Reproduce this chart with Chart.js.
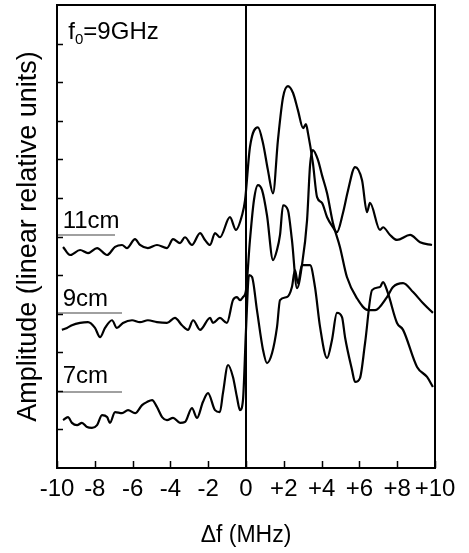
<!DOCTYPE html>
<html>
<head>
<meta charset="utf-8">
<title>Amplitude vs frequency offset</title>
<script src="https://cdn.jsdelivr.net/npm/chart.js@4/dist/chart.umd.min.js"></script>
<style>
    html, body { margin: 0; padding: 0; background: #fff; }
</style>
</head>
<body>
<canvas id="chart" width="469" height="553"></canvas>
<script>
// [frequency offset (MHz), amplitude (relative units)]
var curve11cm = [
    [-9.68, 5.73], [-9.31, 5.52], [-8.78, 5.65], [-8.36, 5.57], [-7.88, 5.70], [-7.35, 5.52],
    [-6.93, 5.73], [-6.56, 5.78], [-6.30, 5.70], [-5.87, 5.93], [-5.61, 5.78], [-5.19, 5.70],
    [-4.71, 5.78], [-4.18, 5.70], [-3.86, 5.93], [-3.49, 5.83], [-3.23, 5.98], [-2.86, 5.78],
    [-2.43, 6.09], [-2.17, 5.91], [-1.90, 5.78], [-1.64, 6.09], [-1.38, 5.98], [-0.85, 6.50],
    [-0.53, 6.17], [-0.21, 6.55], [-0.05, 6.94], [0.21, 8.32], [0.63, 8.83], [0.90, 8.42],
    [1.16, 7.72], [1.43, 7.12], [1.69, 8.50], [1.96, 9.61], [2.22, 9.90], [2.49, 9.72],
    [2.75, 9.27], [3.02, 8.81], [3.17, 8.91], [3.28, 8.68], [3.54, 7.90], [3.76, 7.02],
    [4.02, 6.87], [4.29, 6.50], [4.60, 6.24], [4.81, 6.11], [5.13, 6.61], [5.40, 7.20],
    [5.77, 7.80], [6.14, 7.46], [6.40, 6.63], [6.56, 6.87], [7.09, 6.17], [7.25, 6.24],
    [7.62, 6.04], [7.99, 5.91], [8.68, 6.04], [9.21, 5.85], [9.84, 5.78]
];
var curve9cm = [
    [-9.74, 3.58], [-9.47, 3.63], [-9.21, 3.70], [-8.78, 3.76], [-8.36, 3.78], [-7.99, 3.63],
    [-7.72, 3.39], [-7.46, 3.63], [-7.09, 3.83], [-6.83, 3.63], [-6.51, 3.76], [-6.03, 3.83],
    [-5.61, 3.78], [-5.19, 3.83], [-4.71, 3.78], [-4.18, 3.76], [-3.76, 3.89], [-3.39, 3.70],
    [-3.07, 3.58], [-2.80, 3.83], [-2.43, 3.58], [-1.90, 3.89], [-1.75, 3.76], [-1.38, 3.89],
    [-1.01, 3.76], [-0.69, 4.35], [-0.48, 4.43], [-0.32, 4.35], [-0.16, 4.43], [0.00, 4.61],
    [0.21, 5.91], [0.42, 6.94], [0.63, 7.33], [0.85, 7.20], [1.11, 6.55], [1.43, 5.39],
    [1.64, 5.65], [1.80, 6.04], [1.96, 6.81], [2.22, 6.68], [2.43, 5.91], [2.70, 4.66],
    [2.96, 5.26], [3.23, 6.42], [3.39, 7.85], [3.54, 8.24], [3.81, 7.98], [4.02, 7.59],
    [4.29, 7.12], [4.60, 6.35], [4.97, 5.73], [5.34, 4.95], [5.87, 4.40], [6.46, 4.09],
    [6.83, 4.09], [7.46, 4.43], [7.78, 4.69], [8.31, 4.79], [8.84, 4.56], [9.37, 4.27],
    [9.89, 4.02]
];
var curve7cm = [
    [-9.68, 1.24], [-9.42, 1.32], [-9.21, 1.17], [-8.94, 1.11], [-8.68, 1.17], [-8.41, 1.06],
    [-8.15, 1.04], [-7.88, 1.11], [-7.62, 1.37], [-7.35, 1.32], [-7.20, 1.17], [-6.93, 1.45],
    [-6.56, 1.42], [-6.24, 1.50], [-5.87, 1.42], [-5.50, 1.63], [-5.24, 1.71], [-4.97, 1.76],
    [-4.71, 1.58], [-4.44, 1.32], [-4.18, 1.24], [-3.86, 1.30], [-3.49, 1.17], [-3.23, 1.19],
    [-2.86, 1.55], [-2.59, 1.30], [-2.28, 1.71], [-2.01, 1.94], [-1.64, 1.50], [-1.38, 1.45],
    [-1.22, 1.94], [-0.95, 2.67], [-0.69, 2.36], [-0.48, 1.84], [-0.32, 1.50], [-0.16, 1.76],
    [0.00, 3.58], [0.16, 5.00], [0.32, 4.95], [0.58, 4.09], [0.90, 3.06], [1.11, 2.72],
    [1.38, 2.98], [1.64, 3.65], [1.80, 4.35], [2.17, 4.43], [2.43, 4.69], [2.59, 5.13],
    [2.75, 4.79], [2.96, 5.26], [3.39, 5.26], [3.65, 4.69], [3.92, 3.65], [4.29, 2.85],
    [4.55, 3.32], [4.81, 4.02], [5.08, 3.91], [5.24, 3.39], [5.61, 2.54], [5.77, 2.23],
    [6.03, 2.33], [6.30, 3.24], [6.67, 4.61], [7.09, 4.69], [7.25, 4.82], [7.51, 4.53],
    [7.99, 3.76], [8.31, 3.58], [9.05, 2.62], [9.58, 2.36], [9.89, 2.10]
];

// grey reference lines drawn under each distance label
var baseline11cm = [[-10, 6.04], [-6.93, 6.04]];
var baseline9cm = [[-10, 4.02], [-6.56, 4.02]];
var baseline7cm = [[-10, 1.97], [-6.56, 1.97]];
var zeroLine = [[0, 0], [0, 12]];

var curveLabels = [
    { text: '11cm', f: -9.7, a: 6.22 },
    { text: '9cm', f: -9.7, a: 4.20 },
    { text: '7cm', f: -9.7, a: 2.20 }
];
var xTicks = [-10, -8, -6, -4, -2, 0, 2, 4, 6, 8, 10];
var yTicks = [1, 2, 3, 4, 5, 6, 7, 8, 9, 10, 11];

(function () {
    "use strict";

    var FONT = '"Liberation Sans", Arial, Helvetica, sans-serif';

    function pts(list) {
        return list.map(function (p) { return { x: p[0], y: p[1] }; });
    }

    function curve(list) {
        return { data: pts(list), borderColor: '#000', borderWidth: 2.2, pointRadius: 0, cubicInterpolationMode: 'monotone', fill: false };
    }

    function rule(list, color, width) {
        return { data: pts(list), borderColor: color, borderWidth: width, pointRadius: 0, tension: 0, fill: false };
    }

    // frame, inward ticks and in-plot text
    var decorations = {
        id: 'decorations',
        afterDatasetsDraw: function (chart) {
            var ctx = chart.ctx, a = chart.chartArea, xs = chart.scales.x, ys = chart.scales.y;
            ctx.save();
            ctx.strokeStyle = '#000';
            ctx.lineWidth = 1.5;
            ctx.beginPath();
            xTicks.forEach(function (v) {
                var px = Math.round(xs.getPixelForValue(v)) + 0.5;
                ctx.moveTo(px, a.bottom);
                ctx.lineTo(px, a.bottom - 7);
            });
            yTicks.forEach(function (v) {
                var py = Math.round(ys.getPixelForValue(v)) + 0.5;
                ctx.moveTo(a.left, py);
                ctx.lineTo(a.left + 6, py);
            });
            ctx.stroke();

            ctx.lineWidth = 2;
            ctx.strokeRect(a.left, a.top, a.right - a.left, a.bottom - a.top);

            ctx.fillStyle = '#000';
            ctx.textBaseline = 'alphabetic';
            ctx.textAlign = 'left';
            ctx.font = '24px ' + FONT;
            curveLabels.forEach(function (lab) {
                ctx.fillText(lab.text, xs.getPixelForValue(lab.f), ys.getPixelForValue(lab.a));
            });

            // f0=9GHz with a lowered subscript
            var x0 = xs.getPixelForValue(-9.4), y0 = ys.getPixelForValue(11.12);
            ctx.font = '24px ' + FONT;
            ctx.fillText('f', x0, y0);
            var w = ctx.measureText('f').width;
            ctx.font = '15px ' + FONT;
            ctx.fillText('0', x0 + w, y0 + 5);
            w += ctx.measureText('0').width;
            ctx.font = '24px ' + FONT;
            ctx.fillText('=9GHz', x0 + w, y0);
            ctx.restore();
        }
    };

    new Chart(document.getElementById('chart'), {
        type: 'line',
        data: {
            datasets: [
                rule(zeroLine, '#000', 2),
                rule(baseline11cm, '#808080', 1.5),
                rule(baseline9cm, '#808080', 1.5),
                rule(baseline7cm, '#808080', 1.5),
                curve(curve11cm),
                curve(curve9cm),
                curve(curve7cm)
            ]
        },
        options: {
            responsive: false,
            animation: false,
            layout: { padding: { top: 5, right: 34, left: 0, bottom: 0 } },
            scales: {
                x: {
                    type: 'linear',
                    min: -10,
                    max: 10,
                    afterFit: function (scale) { scale.height = 85; },
                    grid: { display: false, drawTicks: false },
                    border: { display: false },
                    afterBuildTicks: function (scale) {
                        scale.ticks = xTicks.map(function (v) { return { value: v }; });
                    },
                    ticks: {
                        autoSkip: false,
                        maxRotation: 0,
                        padding: 7,
                        color: '#000',
                        font: { family: FONT, size: 24 },
                        callback: function (v) { return v > 0 ? '+' + v : String(v); }
                    },
                    title: {
                        display: true,
                        text: '\u0394f (MHz)',
                        color: '#000',
                        font: { family: FONT, size: 23 },
                        padding: { top: 0, bottom: 4 }
                    }
                },
                y: {
                    type: 'linear',
                    min: 0,
                    max: 12,
                    afterFit: function (scale) { scale.width = 57; },
                    grid: { display: false, drawTicks: false },
                    border: { display: false },
                    ticks: { display: false, stepSize: 1 },
                    title: {
                        display: true,
                        text: 'Amplitude (linear relative units)',
                        color: '#000',
                        font: { family: FONT, size: 27 },
                        padding: { top: 12, bottom: 0 }
                    }
                }
            },
            plugins: {
                legend: { display: false },
                tooltip: { enabled: false }
            }
        },
        plugins: [decorations]
    });
})();
</script>
</body>
</html>
